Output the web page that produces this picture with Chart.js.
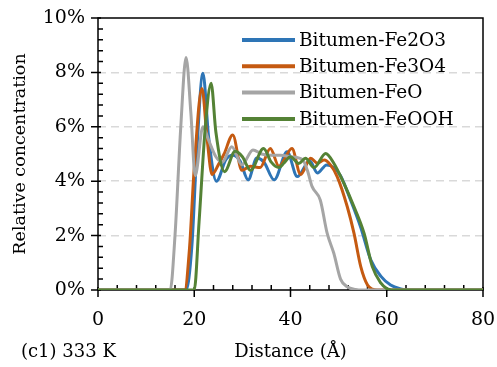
<!DOCTYPE html>
<html>
<head>
<meta charset="utf-8">
<script src="https://cdn.jsdelivr.net/npm/chart.js@4"></script>
<style>
  html, body { margin: 0; background: #fff; }
</style>
</head>
<body>
<canvas id="graph" width="497" height="367"></canvas>
<script>
const ctx = document.getElementById('graph').getContext('2d');

// Series: distance (Å) and relative concentration (%)
const fe2o3X = [0, 18.3, 19.5, 20.5, 21.8, 23, 24.6, 26.6, 28, 29.5, 31.2, 33, 34.5, 36.6, 39.3, 41.4, 44, 45.6, 47.5, 49, 50.4, 52.5, 54.6, 56.7, 58.8, 60.8, 62.9, 64.5, 80];
const fe2o3Y = [0, 0, 1.6, 5.0, 7.97, 5.6, 4.0, 4.8, 4.95, 4.75, 4.05, 4.85, 4.7, 4.05, 5.08, 4.17, 4.75, 4.3, 4.6, 4.5, 4.2, 3.3, 2.3, 1.1, 0.5, 0.18, 0.04, 0, 0];

const fe3o4X = [0, 18, 19, 20, 21.6, 22.7, 23.7, 25, 26.2, 28, 29.9, 31.7, 33.7, 35.8, 37.6, 40.3, 42.1, 44.2, 45.6, 47, 48.3, 49.7, 51.8, 53.2, 54.6, 56, 57, 58, 80];
const fe3o4Y = [0, 0, 1.5, 4.5, 7.41, 5.5, 4.25, 4.6, 5.0, 5.7, 4.4, 4.55, 4.5, 5.2, 4.55, 5.2, 4.25, 4.84, 4.66, 4.78, 4.6, 4.17, 3.06, 2.08, 0.86, 0.18, 0.03, 0, 0];

const feoX = [0, 15, 16, 17.2, 18.3, 19.3, 20.2, 21.8, 23, 24.5, 25.8, 27.8, 29.9, 32.2, 34, 36, 38, 40, 42.5, 43.5, 44.5, 46.2, 47.6, 49, 50.4, 51.8, 53.5, 55, 80];
const feoY = [0, 0, 2, 6, 8.55, 6.5, 4.2, 6.0, 5.5, 4.9, 4.7, 5.27, 4.6, 5.15, 5.0, 4.95, 4.95, 4.9, 4.8, 4.4, 3.8, 3.3, 2.1, 1.35, 0.4, 0.12, 0.02, 0, 0];

const feoohX = [0, 20, 21, 22.3, 23.5, 24.5, 26.3, 28.5, 30, 31.7, 34.4, 36, 37.6, 38.6, 40, 41.7, 43.1, 44.9, 47.3, 49, 51.1, 53.2, 55.3, 57, 58.8, 60, 61, 80];
const feoohY = [0, 0, 2.5, 6, 7.6, 5.8, 4.35, 5.1, 4.9, 4.4, 5.2, 4.7, 4.5, 4.66, 4.9, 4.65, 4.84, 4.5, 5.02, 4.66, 3.92, 3.06, 2.08, 0.86, 0.25, 0.05, 0, 0];

const seriesNames = ['Bitumen-Fe2O3', 'Bitumen-Fe3O4', 'Bitumen-FeO', 'Bitumen-FeOOH'];
const seriesColors = ['#2E75B6', '#C55A11', '#A5A5A5', '#548235'];

const xTicks = [0, 20, 40, 60, 80];
const yTicks = [0, 2, 4, 6, 8, 10];

function toPoints(xs, ys) {
    return xs.map((x, i) => ({ x: x, y: ys[i] }));
}

Chart.defaults.font.family = 'DejaVu Serif';
Chart.defaults.font.size = 19;
Chart.defaults.color = '#000';

// Axis lines, frame and tick marks (major crossing, minor inward)
const axisPlugin = {
    id: 'axisFrame',
    beforeDatasetsDraw(chart) {
        const { ctx, chartArea: a, scales } = chart;
        const xs = scales.x, ys = scales.y;
        ctx.save();
        ctx.strokeStyle = '#000';
        ctx.lineWidth = 1.5;
        ctx.strokeRect(a.left, a.top, a.right - a.left, a.bottom - a.top);
        ctx.beginPath();
        for (let v = 0; v <= 80; v += 4) {
            const px = xs.getPixelForValue(v);
            if (v % 20 === 0) {
                ctx.moveTo(px, a.bottom - 3);
                ctx.lineTo(px, a.bottom + 7);
            } else {
                ctx.moveTo(px, a.bottom);
                ctx.lineTo(px, a.bottom - 5);
            }
        }
        for (let v = 0; v <= 50; v += 2) {
            const py = ys.getPixelForValue(v / 5);
            if (v % 10 === 0) {
                ctx.moveTo(a.left - 7, py);
                ctx.lineTo(a.left + 3, py);
            } else {
                ctx.moveTo(a.left, py);
                ctx.lineTo(a.left + 5, py);
            }
        }
        ctx.stroke();
        ctx.restore();
    },
    afterDraw(chart) {
        const { ctx } = chart;
        ctx.save();
        // legend inside the plot
        ctx.textBaseline = 'middle';
        chart.data.datasets.forEach((ds, i) => {
            const y = 40 + i * 26.3;
            ctx.strokeStyle = ds.borderColor;
            ctx.lineWidth = 4;
            ctx.beginPath();
            ctx.moveTo(242, y);
            ctx.lineTo(295, y);
            ctx.stroke();
            ctx.fillStyle = '#000';
            ctx.font = '18.5px "DejaVu Serif"';
            ctx.fillText(ds.label, 299, y + 1);
        });
        ctx.font = '18px "DejaVu Serif"';
        ctx.fillText('(c1) 333 K', 21, 352);
        ctx.restore();
    }
};

const chart = new Chart(ctx, {
    type: 'line',
    data: {
        datasets: [
            { label: seriesNames[0], data: toPoints(fe2o3X, fe2o3Y), borderColor: seriesColors[0], order: 4 },
            { label: seriesNames[1], data: toPoints(fe3o4X, fe3o4Y), borderColor: seriesColors[1], order: 3 },
            { label: seriesNames[2], data: toPoints(feoX, feoY), borderColor: seriesColors[2], order: 2 },
            { label: seriesNames[3], data: toPoints(feoohX, feoohY), borderColor: seriesColors[3], order: 1 },
        ],
    },
    options: {
        responsive: false,
        animation: false,
        layout: { padding: { top: 18, right: 14, left: 0, bottom: 0 } },
        elements: {
            point: { radius: 0 },
            line: { borderWidth: 3, cubicInterpolationMode: 'monotone', fill: false },
        },
        plugins: {
            legend: { display: false },
            tooltip: { enabled: false },
        },
        scales: {
            x: {
                type: 'linear',
                min: 0,
                max: 80,
                afterFit(scale) {
                    scale.height = 77;
                    scale.paddingLeft = 0;
                    scale.paddingRight = 0;
                },
                afterBuildTicks(scale) { scale.ticks = xTicks.map(v => ({ value: v })); },
                ticks: { padding: 19 },
                grid: { display: false, drawTicks: false },
                border: { display: false },
                title: { display: true, text: 'Distance (Å)', font: { size: 18 }, padding: { top: 0, bottom: 4 } },
            },
            y: {
                min: 0,
                max: 10,
                afterFit(scale) {
                    scale.width = 98;
                    scale.paddingTop = 0;
                    scale.paddingBottom = 0;
                },
                afterBuildTicks(scale) { scale.ticks = yTicks.map(v => ({ value: v })); },
                ticks: { padding: 13, callback: v => v + '%' },
                grid: {
                    drawTicks: false,
                    lineWidth: 1.5,
                    color: c => (c.tick && (c.tick.value === 0 || c.tick.value === 10)) ? 'rgba(0,0,0,0)' : '#d9d9d9',
                },
                border: { display: false, dash: [8, 5] },
                title: { display: true, text: 'Relative concentration', font: { size: 17.5 }, padding: { top: 10, bottom: 0 } },
            },
        },
    },
    plugins: [axisPlugin],
});
</script>
</body>
</html>
